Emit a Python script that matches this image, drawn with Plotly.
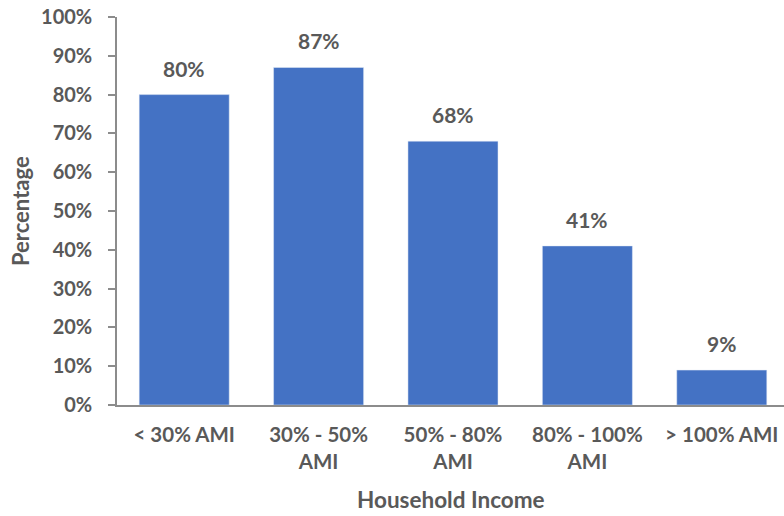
import plotly.graph_objects as go

categories = ["< 30% AMI", "30% - 50%<br>AMI", "50% - 80%<br>AMI", "80% - 100%<br>AMI", "> 100% AMI"]
values = [80, 87, 68, 41, 9]
value_labels = ["80%", "87%", "68%", "41%", "9%"]
tick_vals = [0, 10, 20, 30, 40, 50, 60, 70, 80, 90, 100]
tick_text = ["0%", "10%", "20%", "30%", "40%", "50%", "60%", "70%", "80%", "90%", "100%"]
x_title = "Household Income"
y_title = "Percentage"

GRAY = "#595959"
FONT = "Lato"

def f(size):
    return dict(family=FONT, size=size, color=GRAY, weight="bold")

fig = go.Figure()
fig.add_trace(go.Bar(x=categories, y=values, marker_color="#4472C4", width=0.67,
                     hoverinfo="skip"))

for c, v, t in zip(categories, values, value_labels):
    fig.add_annotation(x=c, y=v, text=t, showarrow=False, yanchor="bottom", yshift=12,
                       font=f(21))

# axis titles
fig.add_annotation(xref="paper", yref="paper", x=0.5, y=-0.2423, text=x_title,
                   showarrow=False, xanchor="center", yanchor="middle", font=f(22.5))
fig.add_annotation(xref="paper", yref="paper", x=-0.1454, y=0.5, text=y_title,
                   showarrow=False, xanchor="center", yanchor="middle", textangle=-90, font=f(22))

fig.update_layout(
    width=784, height=516,
    margin=dict(l=117, r=0, t=17, b=111, autoexpand=False),
    plot_bgcolor="white", paper_bgcolor="white",
    showlegend=False,
    font=dict(family=FONT, color=GRAY, weight="bold"),
)
fig.update_xaxes(
    type="category", range=[-0.5, 4.463], automargin=False,
    showline=True, linecolor="#8c8c8c", linewidth=1.5,
    ticks="", tickfont=f(20.5), ticklabelstandoff=11, ticklabeloverflow="allow",
    showgrid=False,
)
fig.update_yaxes(
    range=[0, 100], tickvals=tick_vals, ticktext=tick_text, automargin=False,
    showline=True, linecolor="#8c8c8c", linewidth=1.5,
    ticks="outside", ticklen=7, tickcolor="#8c8c8c", tickwidth=1.5,
    tickfont=f(20), ticklabelstandoff=12, ticklabeloverflow="allow",
    showgrid=False, zeroline=False,
)

fig.write_html("out.html", config={"displayModeBar": False},
               post_script="document.body.style.margin='0';")
